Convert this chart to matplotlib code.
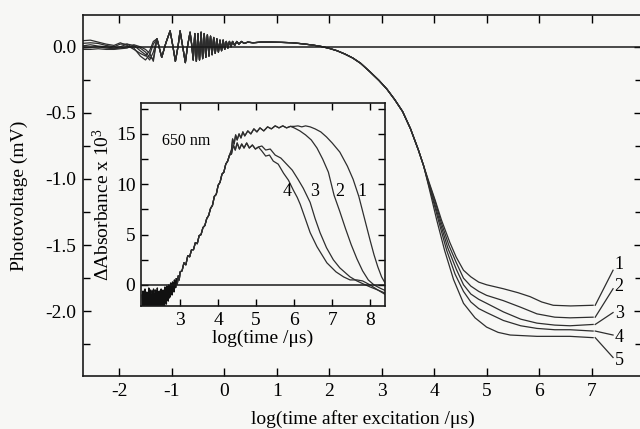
import numpy as np
import matplotlib
matplotlib.use("Agg")
import matplotlib.pyplot as plt
from matplotlib.ticker import MultipleLocator, FormatStrFormatter

plt.rcParams['font.family'] = ['Liberation Serif', 'DejaVu Serif']
plt.rcParams['mathtext.fontset'] = 'custom'
plt.rcParams['mathtext.rm'] = 'Liberation Serif'
plt.rcParams['mathtext.it'] = 'Liberation Serif:italic'
plt.rcParams['axes.unicode_minus'] = False

# ---------------- main chart data (log time, photovoltage mV) ----------------
main_early_x = [-2.72, -2.55, -2.40, -2.25, -2.10, -1.98, -1.85, -1.72, -1.60, -1.50, -1.42, -1.35]
main_early_y = [
    [0.045, 0.050, 0.035, 0.020, 0.010, 0.030, 0.010, -0.020, -0.050, -0.070, -0.030, 0.040],
    [0.025, 0.030, 0.025, 0.010, 0.000, 0.020, 0.020, -0.010, -0.070, -0.100, -0.060, 0.020],
    [0.005, 0.015, 0.005, 0.000, -0.010, 0.000, 0.020, 0.010, -0.030, -0.060, -0.100, -0.040],
    [-0.010, -0.005, 0.000, -0.010, -0.015, -0.010, 0.000, 0.000, -0.010, -0.040, -0.080, -0.090],
    [-0.020, -0.020, -0.015, -0.020, -0.020, -0.015, -0.010, 0.015, 0.000, -0.020, -0.050, -0.110],
]
osc_x = [-1.28, -1.19, -1.11, -1.03, -0.98, -0.93, -0.88, -0.84, -0.79, -0.74,
         -0.70, -0.65, -0.62, -0.59, -0.56, -0.53, -0.50, -0.47, -0.44, -0.41,
         -0.38, -0.35, -0.32, -0.29, -0.26, -0.23, -0.20, -0.17, -0.14, -0.11,
         -0.08, -0.05, -0.02, 0.01, 0.04, 0.07, 0.10, 0.13, 0.16, 0.20,
         0.24, 0.28, 0.33, 0.38, 0.45]
osc_y = [0.06, -0.08, 0.03, 0.12, 0.01, -0.11, 0.00, 0.12, 0.00, -0.12,
         0.00, 0.11, 0.02, -0.10, 0.10, -0.11, 0.10, -0.10, 0.11, -0.09,
         0.10, -0.08, 0.09, -0.07, 0.08, -0.06, 0.07, -0.05, 0.06, -0.04,
         0.05, -0.03, 0.05, -0.02, 0.04, -0.01, 0.04, 0.00, 0.04, 0.01,
         0.04, 0.02, 0.04, 0.025, 0.035]
decl_x = [0.55, 0.70, 0.90, 1.10, 1.30, 1.50, 1.70, 1.85, 2.00, 2.15, 2.30,
          2.45, 2.60, 2.78, 2.95, 3.10, 3.25, 3.40, 3.55, 3.70, 3.80]
decl_y = [0.030, 0.035, 0.035, 0.033, 0.030, 0.022, 0.012, 0.002, -0.012, -0.030, -0.055,
          -0.085, -0.125, -0.190, -0.255, -0.320, -0.400, -0.490, -0.620, -0.780, -0.900]
tail_x = [
    [3.90, 4.02, 4.14, 4.30, 4.42, 4.56, 4.70, 4.85, 5.00, 5.32, 5.60, 5.83, 6.05, 6.27, 6.60, 7.03],
    [3.90, 4.02, 4.12, 4.28, 4.42, 4.56, 4.70, 4.85, 5.00, 5.32, 5.65, 5.96, 6.30, 6.59, 7.03],
    [3.90, 4.00, 4.10, 4.26, 4.42, 4.56, 4.70, 4.85, 5.00, 5.32, 5.65, 5.96, 6.30, 6.59, 7.03],
    [3.90, 4.00, 4.08, 4.24, 4.40, 4.56, 4.70, 4.85, 5.00, 5.32, 5.65, 5.96, 6.30, 6.59, 7.03],
    [3.90, 4.05, 4.20, 4.37, 4.56, 4.78, 5.00, 5.22, 5.45, 5.96, 6.59, 7.03],
]
tail_y = [
    [-1.02, -1.16, -1.31, -1.48, -1.59, -1.69, -1.74, -1.78, -1.80, -1.83, -1.86, -1.89, -1.93, -1.955, -1.96, -1.955],
    [-1.03, -1.17, -1.31, -1.50, -1.63, -1.75, -1.81, -1.85, -1.88, -1.92, -1.97, -2.02, -2.045, -2.05, -2.045],
    [-1.04, -1.17, -1.31, -1.52, -1.68, -1.80, -1.87, -1.91, -1.94, -2.005, -2.06, -2.09, -2.105, -2.11, -2.10],
    [-1.05, -1.19, -1.31, -1.54, -1.72, -1.85, -1.93, -1.98, -2.01, -2.07, -2.11, -2.13, -2.14, -2.14, -2.15],
    [-1.06, -1.31, -1.54, -1.76, -1.94, -2.05, -2.12, -2.16, -2.18, -2.19, -2.19, -2.20],
]
curve_labels = ['1', '2', '3', '4', '5']
label_y = [-1.65, -1.81, -2.02, -2.20, -2.37]
leader_end_y = [-1.69, -1.83, -2.01, -2.18, -2.35]
main_xticks = [-2, -1, 0, 1, 2, 3, 4, 5, 6, 7]
main_yticks = [0.0, -0.5, -1.0, -1.5, -2.0]

# ---------------- inset data (log time, dAbsorbance x 1e3) ----------------
ins_noise_x = [2.0000, 2.0125, 2.0250, 2.0375, 2.0500, 2.0625, 2.0750, 2.0875,
               2.1000, 2.1125, 2.1250, 2.1375, 2.1500, 2.1625, 2.1750, 2.1875,
               2.2000, 2.2125, 2.2250, 2.2375, 2.2500, 2.2625, 2.2750, 2.2875,
               2.3000, 2.3125, 2.3250, 2.3375, 2.3500, 2.3625, 2.3750, 2.3875,
               2.4000, 2.4125, 2.4250, 2.4375, 2.4500, 2.4625, 2.4750, 2.4875,
               2.5000, 2.5125, 2.5250, 2.5375, 2.5500, 2.5625, 2.5750, 2.5875,
               2.6000, 2.6125, 2.6250, 2.6375, 2.6500, 2.6625, 2.6750, 2.6875,
               2.7000, 2.7125, 2.7250, 2.7375, 2.7500, 2.7625, 2.7750, 2.7875,
               2.8000, 2.8125, 2.8250, 2.8375, 2.8500, 2.8625, 2.8750, 2.8875]
ins_noise_y = [-1.0, -2.3, -0.6, -2.0, -1.3, -2.4, -0.4, -1.9, -0.9, -2.3, -0.7, -2.1,
               -1.1, -2.4, -0.3, -1.8, -0.8, -2.2, -0.5, -2.0, -1.0, -2.3, -0.6, -1.9,
               -0.4, -2.2, -0.9, -2.4, -0.5, -1.7, -1.2, -2.3, -0.3, -2.0, -0.8, -2.4,
               -0.6, -1.9, -1.1, -2.2, -0.4, -2.0, -0.7, -2.3, -0.5, -1.8, -0.9, -2.1,
               -0.2, -1.7, -0.6, -1.9, -0.1, -1.5, -0.4, -1.6, 0.0, -1.3, -0.3, -1.2,
               0.2, -0.9, 0.1, -1.0, 0.3, -0.6, 0.2, -0.7, 0.5, -0.3, 0.4, -0.2]
ins_rise_x = [2.900, 2.925, 2.950, 2.975, 3.000, 3.05, 3.10, 3.15, 3.20, 3.25,
              3.30, 3.35, 3.40, 3.45, 3.50, 3.55, 3.60, 3.65, 3.70, 3.75,
              3.80, 3.85, 3.90, 3.95, 4.00, 4.05, 4.10, 4.15, 4.20, 4.25, 4.30]
ins_rise_y = [0.6, 0.1, 0.9, 0.5, 1.3, 1.4, 2.2, 2.0, 2.9, 2.8,
              3.5, 3.5, 4.2, 4.1, 4.9, 5.0, 5.7, 5.9, 6.6, 6.9,
              7.6, 7.9, 8.8, 9.0, 9.9, 10.2, 11.0, 11.2, 12.0, 12.3, 12.9]
hi_x = [4.35, 4.38, 4.42, 4.46, 4.50, 4.55, 4.60, 4.65, 4.70, 4.78, 4.86,
        4.94, 5.02, 5.10, 5.20, 5.30, 5.40, 5.50, 5.60, 5.70, 5.80, 5.90]
hi_y = [13.4, 14.5, 14.0, 14.9, 14.4, 15.0, 14.6, 15.2, 14.8, 15.3, 15.0,
        15.5, 15.2, 15.6, 15.3, 15.7, 15.5, 15.8, 15.6, 15.8, 15.6, 15.75]
lo_x = [4.35, 4.40, 4.45, 4.50, 4.56, 4.62, 4.68, 4.75, 4.82, 4.90, 4.98, 5.06]
lo_y = [13.0, 13.9, 13.4, 14.1, 13.5, 14.0, 13.6, 14.1, 13.6, 13.9, 13.5, 13.7]
ins_tail_x = {
    '1': [6.00, 6.10, 6.20, 6.30, 6.42, 6.55, 6.70, 6.85, 7.00, 7.20, 7.40, 7.55,
          7.70, 7.85, 8.00, 8.10, 8.20, 8.30, 8.42],
    '2': [6.00, 6.15, 6.30, 6.45, 6.60, 6.75, 6.90, 7.05, 7.20, 7.35, 7.50, 7.65,
          7.80, 7.95, 8.10, 8.25, 8.42],
    '3': [5.15, 5.25, 5.37, 5.50, 5.65, 5.80, 5.95, 6.10, 6.24, 6.42, 6.55, 6.68,
          6.85, 7.03, 7.20, 7.47, 7.65, 7.82, 8.00, 8.20, 8.42],
    '4': [5.15, 5.25, 5.35, 5.45, 5.58, 5.72, 5.85, 5.98, 6.08, 6.16, 6.30, 6.42,
          6.60, 6.86, 7.10, 7.30, 7.47, 7.65, 7.80, 8.00, 8.20, 8.42],
}
ins_tail_y = {
    '1': [15.75, 15.8, 15.7, 15.8, 15.7, 15.5, 15.2, 14.7, 14.1, 13.2, 11.8, 10.5,
          8.8, 6.6, 4.4, 3.0, 1.8, 0.8, 0.0],
    '2': [15.6, 15.3, 14.9, 14.4, 13.6, 12.5, 11.2, 8.9, 7.3, 5.6, 4.0, 2.6,
          1.4, 0.5, 0.0, -0.3, -0.6],
    '3': [13.8, 13.4, 13.5, 12.9, 12.6, 12.0, 11.4, 10.5, 9.6, 8.2, 6.6, 5.2,
          3.7, 2.5, 1.7, 0.8, 0.4, 0.1, -0.2, -0.5, -0.85],
    '4': [13.3, 12.8, 12.9, 12.3, 12.0, 11.1, 10.4, 9.4, 8.7, 8.0, 6.5, 5.2,
          3.8, 2.2, 1.3, 0.8, 0.5, 0.5, 0.4, 0.0, -0.5, -1.0],
}
ins_label_x = {'1': 7.78, '2': 7.21, '3': 6.55, '4': 5.82}
ins_label_y = 9.3
ins_xticks = [3, 4, 5, 6, 7, 8]
ins_yticks = [0, 5, 10, 15]

# ---------------- drawing ----------------
bg = '#f7f7f5'
lc = '#2e2e2e'
fig = plt.figure(figsize=(6.4, 4.29), dpi=100, facecolor=bg)
ax = fig.add_axes([0.1297, 0.1235, 0.8733, 0.8415], facecolor=bg)

for i in range(5):
    x = np.concatenate([main_early_x, osc_x, decl_x, tail_x[i]])
    y = np.concatenate([main_early_y[i], osc_y, decl_y, tail_y[i]])
    ax.plot(x, y, color=lc, lw=0.9)
    ax.plot([tail_x[i][-1] + 0.04, 7.41], [tail_y[i][-1], leader_end_y[i]], color=lc, lw=0.9)
    ax.text(7.44, label_y[i], curve_labels[i], fontsize=13, ha='left', va='center')
ax.axhline(0, color='#1a1a1a', lw=1.1)

ax.set_xlim(-2.69, 7.96)
ax.set_ylim(-2.49, 0.24)
ax.set_xticks(main_xticks)
ax.set_yticks(main_yticks)
ax.yaxis.set_minor_locator(MultipleLocator(0.25))
ax.yaxis.set_major_formatter(FormatStrFormatter('%.1f'))
ax.tick_params(which='both', direction='in', top=True, right=True, labelsize=14, width=1.0, pad=5)
ax.tick_params(which='major', length=6)
ax.tick_params(which='minor', length=5)
for s in ax.spines.values():
    s.set_linewidth(1.2)
    s.set_color('#1a1a1a')
ax.set_xlabel('log(time after excitation /\u03bcs)', fontsize=14, labelpad=7)
ax.set_ylabel('Photovoltage (mV)', fontsize=14, labelpad=12)

# inset
ins = fig.add_axes([0.2203, 0.2867, 0.3813, 0.4732], facecolor=bg)
ins.plot(ins_noise_x, ins_noise_y, color='#111111', lw=1.0)
for key in ['1', '2', '3', '4']:
    if key in ('1', '2'):
        mx, my = hi_x, hi_y
    else:
        mx, my = lo_x, lo_y
    x = np.concatenate([ins_rise_x, mx, ins_tail_x[key]])
    y = np.concatenate([ins_rise_y, my, ins_tail_y[key]])
    ins.plot(x, y, color=lc, lw=0.9)
    ins.text(ins_label_x[key], ins_label_y, key, fontsize=13, ha='center', va='center')
ins.plot([ins_noise_x[-1], ins_rise_x[0]], [ins_noise_y[-1], ins_rise_y[0]], color='#111111', lw=1.0)
ins.axhline(0, color='#1a1a1a', lw=1.1)
ins.text(2.53, 14.3, '650 nm', fontsize=11.5, ha='left', va='center')
ins.set_xlim(1.97, 8.39)
ins.set_ylim(-2.09, 18.07)
ins.set_xticks(ins_xticks)
ins.set_yticks(ins_yticks)
ins.yaxis.set_minor_locator(MultipleLocator(2.5))
ins.tick_params(which='both', direction='in', top=True, right=True, labelsize=14, width=1.0, pad=4)
ins.tick_params(which='major', length=5)
ins.tick_params(which='minor', length=5)
for s in ins.spines.values():
    s.set_linewidth(1.2)
    s.set_color('#1a1a1a')
ins.set_xlabel('log(time /\u03bcs)', fontsize=14, labelpad=1)
ins.set_ylabel('\u0394Absorbance x 10$^{3}$', fontsize=14, labelpad=2)

fig.savefig('out.png', dpi=100, facecolor=bg)
